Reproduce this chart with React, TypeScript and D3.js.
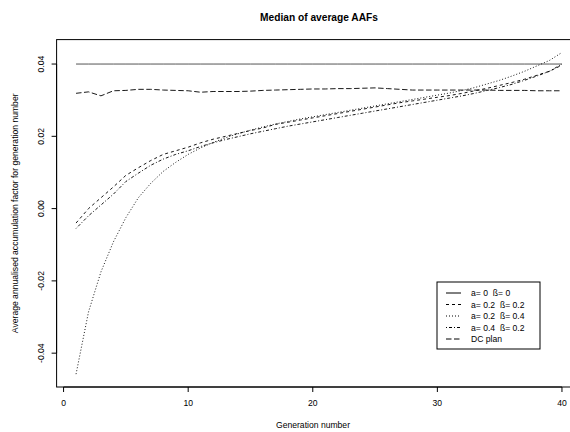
import React from "react";
import * as d3 from "d3";

const generations = d3.range(1, 41);

const baseline00 = generations.map(() => 0.04);

const series0202 = [
  -0.004, 0.0, 0.003, 0.006, 0.0092, 0.0113, 0.0133, 0.015, 0.016, 0.017,
  0.0182, 0.0192, 0.02, 0.0208, 0.0216, 0.0223, 0.0233, 0.0239, 0.0245, 0.0251,
  0.0257, 0.0263, 0.0269, 0.0275, 0.0281, 0.0287, 0.0293, 0.0298, 0.0303, 0.0308,
  0.0313, 0.0319, 0.0326, 0.0333, 0.0341, 0.0349, 0.0358, 0.0369, 0.038, 0.0397,
];

const series0204 = [
  -0.0458, -0.0286, -0.0175, -0.0092, -0.0025, 0.003, 0.007, 0.0103, 0.0128, 0.015,
  0.0168, 0.0183, 0.0196, 0.0207, 0.0217, 0.0226, 0.0234, 0.0241, 0.0248, 0.0254,
  0.026, 0.0266, 0.0272, 0.0278, 0.0284, 0.029, 0.0296, 0.0302, 0.0308, 0.0314,
  0.032, 0.0327, 0.0335, 0.0345, 0.0355, 0.0367, 0.038, 0.0395, 0.041, 0.0432,
];

const series0402 = [
  -0.0055, -0.002, 0.001, 0.004, 0.0075, 0.0098, 0.012, 0.0137, 0.015, 0.016,
  0.0172, 0.0182, 0.0191, 0.0199, 0.0207, 0.0214, 0.0221, 0.0228, 0.0234, 0.024,
  0.0246, 0.0252, 0.0258, 0.0264, 0.027, 0.0276, 0.0282, 0.0288, 0.0294, 0.03,
  0.0306, 0.0312, 0.0319, 0.0327, 0.0335, 0.0344, 0.0355, 0.0367, 0.038, 0.04,
];

const dcPlan = [
  0.0319, 0.0323, 0.0312, 0.0326, 0.0327, 0.033, 0.033, 0.0328, 0.0327, 0.0326,
  0.0322, 0.0324, 0.0324, 0.0324, 0.0325, 0.0327, 0.0328, 0.0329, 0.033, 0.0331,
  0.0331, 0.0332, 0.0332, 0.0333, 0.0334, 0.0332, 0.033, 0.0328, 0.0328, 0.0328,
  0.0328, 0.0328, 0.0328, 0.0328, 0.0327, 0.0327, 0.0327, 0.0326, 0.0326, 0.0326,
];

const legendLabels = ["a= 0  ß= 0", "a= 0.2  ß= 0.2", "a= 0.2  ß= 0.4", "a= 0.4  ß= 0.2", "DC plan"];
const xTicks = [0, 10, 20, 30, 40];
const yTicks = [-0.04, -0.02, 0.0, 0.02, 0.04];

const seriesList = [baseline00, series0202, series0204, series0402, dcPlan];
const dashes = ["none", "3,3", "1,2", "1,2,3,2", "5.5,2.5"];

const FONT = "'Liberation Sans', Arial, Helvetica, sans-serif";

export default function App() {
  const W = 570;
  const H = 432;
  const all = seriesList.flat();
  const ymin = d3.min(all)!;
  const ymax = d3.max(all)!;
  const yr = ymax - ymin;
  const x = d3.scaleLinear().domain([1 - 0.04 * 39, 40 + 0.04 * 39]).range([56.6, 581.4]);
  const y = d3.scaleLinear().domain([ymin - 0.04 * yr, ymax + 0.04 * yr]).range([387, 39.6]);
  const line = d3
    .line<number>()
    .x((_, i) => x(generations[i]))
    .y((d) => y(d));

  const [x0, x1] = x.range();
  const [yb, yt] = y.range();
  const fs = 8.6;

  const legX = 437;
  const legY = 282;
  const legW = 103;
  const legH = 67;
  const rowH = 11.5;

  return (
    <svg width={W} height={H} style={{ position: "absolute", left: 0, top: 0, background: "#fff" }} fontFamily={FONT}>
      <rect x={0} y={0} width={W} height={H} fill="#fff" />
      <text x={(x0 + x1) / 2} y={21} textAnchor="middle" fontWeight="bold" fontSize={10.2}>
        Median of average AAFs
      </text>
      {/* plot box */}
      <rect x={x0} y={yt} width={x1 - x0} height={yb - yt} fill="none" stroke="#000" strokeWidth={1} />
      {/* lines */}
      {seriesList.map((s, i) => (
        <path
          key={i}
          d={line(s) ?? ""}
          fill="none"
          stroke="#000"
          strokeWidth={i === 0 ? 0.9 : 1}
          strokeOpacity={i === 0 ? 0.75 : 0.9}
          strokeDasharray={dashes[i]}
        />
      ))}
      {/* x axis */}
      <line x1={x(0)} x2={x(40)} y1={yb} y2={yb} stroke="#000" />
      {xTicks.map((t) => (
        <g key={t}>
          <line x1={x(t)} x2={x(t)} y1={yb} y2={yb + 5} stroke="#000" />
          <text x={x(t)} y={yb + 19} textAnchor="middle" fontSize={fs}>
            {t}
          </text>
        </g>
      ))}
      <text x={(x0 + x1) / 2 - 6} y={428} textAnchor="middle" fontSize={fs}>
        Generation number
      </text>
      {/* y axis */}
      <line x1={x0} x2={x0} y1={y(-0.04)} y2={y(0.04)} stroke="#000" />
      {yTicks.map((t) => (
        <g key={t}>
          <line x1={x0} x2={x0 - 5} y1={y(t)} y2={y(t)} stroke="#000" />
          <text
            transform={`translate(${x0 - 13},${y(t)}) rotate(-90)`}
            textAnchor="middle"
            fontSize={fs}
          >
            {t === 0 ? "0.00" : d3.format(".2f")(t).replace("−", "-")}
          </text>
        </g>
      ))}
      <text transform={`translate(18,${(yt + yb) / 2}) rotate(-90)`} textAnchor="middle" fontSize={fs}>
        Average annualised accumulation factor for generation number
      </text>
      {/* legend */}
      <rect x={legX} y={legY} width={legW} height={legH} fill="#fff" stroke="#000" strokeWidth={1} />
      {legendLabels.map((lab, i) => {
        const ly = legY + 11 + i * rowH;
        return (
          <g key={lab}>
            <line x1={legX + 9} x2={legX + 24} y1={ly} y2={ly} stroke="#000" strokeDasharray={dashes[i]} strokeWidth={1} />
            <text x={legX + 34} y={ly + 3} fontSize={fs} style={{ whiteSpace: "pre" }}>
              {lab}
            </text>
          </g>
        );
      })}
    </svg>
  );
}
